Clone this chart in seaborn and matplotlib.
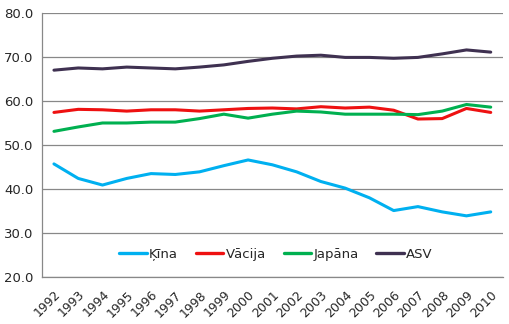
import numpy as np
import pandas as pd
import matplotlib
matplotlib.use("Agg")
import matplotlib.pyplot as plt
import seaborn as sns

years = [str(y) for y in range(1992, 2011)]
kina = [45.7, 42.4, 40.9, 42.4, 43.5, 43.3, 43.9, 45.3, 46.6, 45.5,
        43.9, 41.7, 40.2, 38.0, 35.1, 36.0, 34.8, 33.9, 34.8]
vacija = [57.4, 58.1, 58.0, 57.7, 58.0, 58.0, 57.7, 58.0, 58.3, 58.4,
          58.2, 58.7, 58.4, 58.6, 57.9, 55.9, 56.0, 58.3, 57.4]
japana = [53.1, 54.1, 55.0, 55.0, 55.2, 55.2, 56.0, 57.0, 56.1, 57.0,
          57.7, 57.5, 57.0, 57.0, 57.0, 56.9, 57.7, 59.2, 58.6]
asv = [67.0, 67.5, 67.3, 67.7, 67.5, 67.3, 67.7, 68.2, 69.0, 69.7,
       70.2, 70.4, 69.9, 69.9, 69.7, 69.9, 70.7, 71.6, 71.1]
series = ["Ķīna", "Vācija", "Japāna", "ASV"]
colors = ["#00B0F0", "#EE1111", "#00B050", "#3F3151"]

rows = []
for name, vals in zip(series, [kina, vacija, japana, asv]):
    for i, v in enumerate(vals):
        rows.append({"pos": i, "Gads": years[i], "Valsts": name, "v": v})
df = pd.DataFrame(rows)

sns.set_style("white")
plt.rcParams["font.family"] = ["DejaVu Sans"]
plt.rcParams["font.size"] = 9

fig = plt.figure(figsize=(5.1, 3.24), dpi=100)
ax = fig.add_axes([0.082, 0.145, 0.904, 0.815])

sns.lineplot(data=df, x="pos", y="v", hue="Valsts", hue_order=series,
             palette=colors, linewidth=2.2, ax=ax, legend=False, zorder=3)

ax.set_xlim(-0.5, len(years) - 0.5)
ax.set_ylim(20, 80)
ax.set_yticks(np.arange(20, 81, 10))
ax.set_yticklabels([f"{t:.1f}" for t in np.arange(20, 81, 10)], fontsize=9.5)
ax.yaxis.grid(True, color="#888888", linewidth=0.9)
ax.set_axisbelow(True)

ax.set_xticks(np.arange(-0.5, len(years), 1.0))
ax.set_xticklabels([])
ax.set_xticks(np.arange(len(years)), minor=True)
ax.set_xticklabels(years, minor=True, rotation=45, ha="right",
                   rotation_mode="anchor", fontsize=9)
ax.tick_params(axis="x", which="major", length=4, color="#888888", direction="out")
ax.tick_params(axis="x", which="minor", length=0, pad=8)
ax.tick_params(axis="y", length=4, color="#888888", direction="out", pad=2)
ax.set_xlabel("")
ax.set_ylabel("")

for s in ["top", "right"]:
    ax.spines[s].set_visible(False)
for s in ["left", "bottom"]:
    ax.spines[s].set_color("#888888")
    ax.spines[s].set_linewidth(0.9)

handles = [plt.Line2D([], [], color=c, linewidth=2.4) for c in colors]
fig.legend(handles, series, loc="center", bbox_to_anchor=(0.541, 0.216),
           ncol=4, frameon=False, fontsize=9.5, handlelength=2.1,
           handletextpad=0.15, columnspacing=1.35)

fig.savefig("out.png", dpi=100)
